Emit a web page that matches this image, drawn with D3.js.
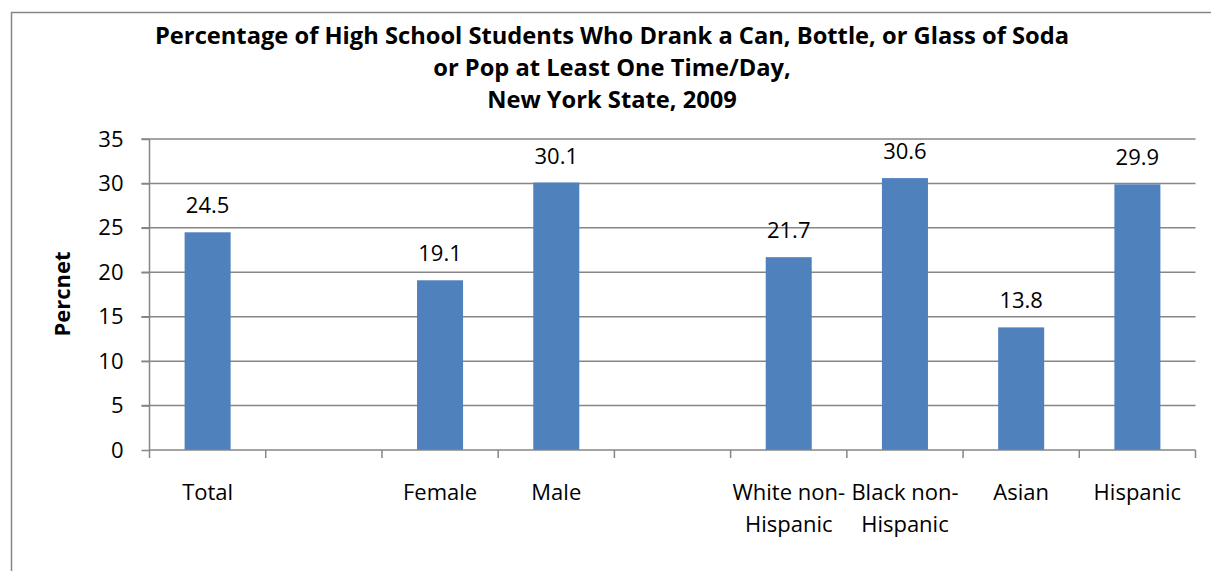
<!DOCTYPE html>
<html><head><meta charset="utf-8">
<script src="https://cdn.jsdelivr.net/npm/d3@7"></script>
<style>
body{margin:0;background:#fff;}
text{font-family:"Open Sans", sans-serif;fill:#000;}
</style></head>
<body><svg id="c" width="1211" height="571"></svg>
<script>
const categories = ["Total", "", "Female", "Male", "", "White non-Hispanic", "Black non-Hispanic", "Asian", "Hispanic"];
const labelLines = [["Total"], [""], ["Female"], ["Male"], [""], ["White non-", "Hispanic"], ["Black non-", "Hispanic"], ["Asian"], ["Hispanic"]];
const values = [24.5, null, 19.1, 30.1, null, 21.7, 30.6, 13.8, 29.9];
const yTicks = [0, 5, 10, 15, 20, 25, 30, 35];
const titleLines = ["Percentage of High School Students Who Drank a Can, Bottle, or Glass of Soda", "or Pop at Least One Time/Day,", "New York State, 2009"];
const yTitle = "Percnet";

const svg = d3.select("#c");
const FONT = "\"Open Sans\", sans-serif";
const L = 149.5, R = 1195.5, T = 139, B = 450;
const keys = categories.map((c, i) => i);
const x = d3.scaleBand().domain(keys).range([L, R]).paddingInner(0.604).paddingOuter(0.302);
const xs = d3.scaleBand().domain(keys).range([L, R]);
const y = d3.scaleLinear().domain([0, 35]).range([B, T]);

// outer border
svg.append("rect").attr("x", 11.5).attr("y", 12.5).attr("width", 1230).attr("height", 600)
  .attr("fill", "none").attr("stroke", "#868686").attr("stroke-width", 1.5);

// gridlines
svg.append("g").selectAll("line").data(yTicks.filter(d => d > 0)).join("line")
  .attr("x1", L - 8).attr("x2", R).attr("y1", d => y(d)).attr("y2", d => y(d))
  .attr("stroke", "#868686").attr("stroke-width", 1.5);

// bars
svg.append("g").selectAll("rect").data(keys.filter(i => values[i] != null)).join("rect")
  .attr("x", i => x(i)).attr("width", x.bandwidth())
  .attr("y", i => y(values[i])).attr("height", i => B - y(values[i]))
  .attr("fill", "#4F81BD");

// y axis
const ya = svg.append("g").attr("transform", `translate(${L},0)`)
  .call(d3.axisLeft(y).tickValues(yTicks).tickSize(8).tickPadding(18));
ya.select(".domain").attr("stroke", "#868686").attr("stroke-width", 1.5).attr("d", `M0,${T}V${B}`);
ya.selectAll(".tick line").attr("stroke", "#868686").attr("stroke-width", 1.5);
ya.selectAll(".tick text").style("font-size", "22px").style("font-family", FONT).attr("fill", "#000");

// x axis
const xa = svg.append("g").attr("transform", `translate(0,${B})`);
xa.append("line").attr("x1", L).attr("x2", R).attr("y1", 0).attr("y2", 0).attr("stroke", "#868686").attr("stroke-width", 1.5);
const bounds = keys.map(i => xs(i)).concat([R]);
xa.selectAll("line.tk").data(bounds).join("line").attr("class", "tk")
  .attr("x1", d => d).attr("x2", d => d).attr("y1", 0).attr("y2", 8)
  .attr("stroke", "#868686").attr("stroke-width", 1.5);
const xl = xa.selectAll("text.cat").data(keys).join("text").attr("class", "cat")
  .attr("text-anchor", "middle").style("font-size", "22px")
  .attr("transform", i => `translate(${xs(i) + xs.bandwidth() / 2},50)`);
xl.selectAll("tspan").data(i => labelLines[i]).join("tspan")
  .attr("x", 0).attr("dy", (d, j) => j === 0 ? 0 : 32).text(d => d);

// value labels
svg.append("g").selectAll("text").data(keys.filter(i => values[i] != null)).join("text")
  .attr("x", i => x(i) + x.bandwidth() / 2).attr("y", i => y(values[i]) - 19)
  .attr("text-anchor", "middle").style("font-size", "22px").text(i => values[i].toFixed(1));

// title
svg.append("text").attr("text-anchor", "middle").style("font-size", "23.7px").style("font-weight", "bold")
  .selectAll("tspan").data(titleLines).join("tspan")
  .attr("x", 612).attr("y", (d, j) => 44 + j * 32).text(d => d);

// y title
svg.append("text").attr("transform", "translate(70,294) rotate(-90)")
  .attr("text-anchor", "middle").style("font-size", "22px").style("font-weight", "bold").text(yTitle);
</script></body></html>
